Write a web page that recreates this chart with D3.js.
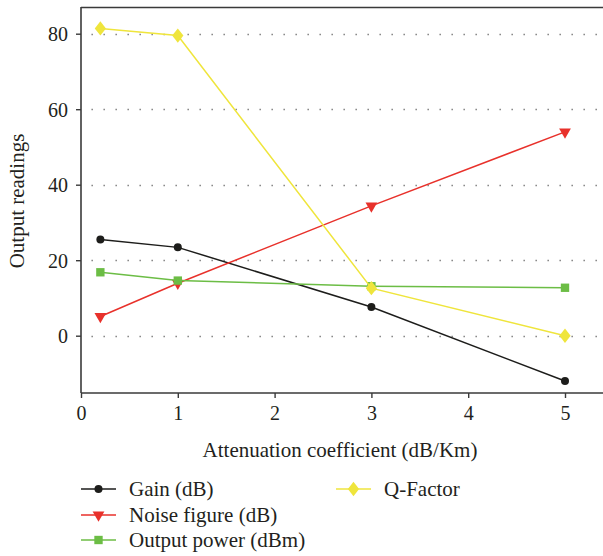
<!DOCTYPE html>
<html>
<head>
<meta charset="utf-8">
<script src="https://cdn.jsdelivr.net/npm/d3@7"></script>
<style>
  body { margin: 0; background: #fff; }
  svg { display: block; }
</style>
</head>
<body>
<svg id="chart" width="603" height="556"></svg>
<script>
const xValues = [0.2, 1, 3, 5];
const gain = [25.5, 23.4, 7.6, -12];
const noiseFigure = [5.1, 13.9, 34.4, 54];
const outputPower = [16.8, 14.6, 13.1, 12.7];
const qFactor = [81.4, 79.5, 12.6, 0];
const xTicks = [0, 1, 2, 3, 4, 5];
const yTicks = [0, 20, 40, 60, 80];
const seriesNames = ["Gain (dB)", "Noise figure (dB)", "Output power (dBm)", "Q-Factor"];
const seriesColors = ["#1d1d1b", "#e8312b", "#6cbd45", "#efe53c"];
const seriesMarkers = ["circle", "triangleDown", "square", "diamond"];
const seriesValues = [gain, noiseFigure, outputPower, qFactor];

const FONT = "'Liberation Serif', 'Times New Roman', serif";
const TXT = "#231f20";

const svg = d3.select("#chart");

const x = d3.scaleLinear().domain([0, 5]).range([81, 565]);
const y = d3.scaleLinear().domain([0, 80]).range([335.7, 33.7]);

// grid lines
svg.append("g").selectAll("line").data(yTicks).join("line")
  .attr("x1", 81).attr("x2", 603)
  .attr("y1", d => Math.round(y(d)) + 0.5).attr("y2", d => Math.round(y(d)) + 0.5)
  .attr("stroke", "#8a8a8a").attr("stroke-width", 1.6)
  .attr("stroke-dasharray", "1.6,10.4").attr("stroke-dashoffset", -10.4);

// frame top
svg.append("line").attr("x1", 81).attr("x2", 603).attr("y1", 7.5).attr("y2", 7.5)
  .attr("stroke", "#3a3a3a").attr("stroke-width", 1.6);

// axes
const yAxis = d3.axisLeft(y).tickValues(yTicks).tickSize(5).tickPadding(8);
const gy = svg.append("g").attr("transform", "translate(81,0)").call(yAxis);
gy.attr("font-family", FONT).attr("font-size", 20);
gy.select(".domain").remove();
gy.append("line").attr("x1", 0).attr("x2", 0).attr("y1", 7).attr("y2", 393)
  .attr("stroke", "#3a3a3a").attr("stroke-width", 1.6);
gy.selectAll(".tick line").attr("stroke", "#3a3a3a").attr("stroke-width", 1.4);
gy.selectAll(".tick text").style("font-size", "20px").attr("fill", TXT)
  .style("font-family", FONT).attr("dy", "0.35em");

const xAxis = d3.axisBottom(x).tickValues(xTicks).tickSize(5).tickPadding(8).tickFormat(d3.format("d"));
const gx = svg.append("g").attr("transform", "translate(0,393)").call(xAxis);
gx.attr("font-family", FONT).attr("font-size", 20);
gx.select(".domain").remove();
gx.append("line").attr("x1", 81).attr("x2", 603).attr("y1", 0).attr("y2", 0)
  .attr("stroke", "#3a3a3a").attr("stroke-width", 1.6);
gx.selectAll(".tick line").attr("stroke", "#3a3a3a").attr("stroke-width", 1.4);
gx.selectAll(".tick text").style("font-size", "20px").attr("fill", TXT)
  .style("font-family", FONT);

// axis titles
svg.append("text").attr("x", 340).attr("y", 457).attr("text-anchor", "middle")
  .style("font-family", FONT).style("font-size", "21px").attr("fill", TXT)
  .text("Attenuation coefficient (dB/Km)");
svg.append("text").attr("transform", "translate(24,201) rotate(-90)").attr("text-anchor", "middle")
  .style("font-family", FONT).style("font-size", "21px").attr("fill", TXT)
  .text("Output readings");

function drawMarker(g, type, cx, cy, color) {
  if (type === "circle") {
    g.append("circle").attr("cx", cx).attr("cy", cy).attr("r", 4).attr("fill", color);
  } else {
    const sym = { triangleDown: d3.symbolTriangle, square: d3.symbolSquare, diamond: d3.symbolDiamond }[type];
    const size = { triangleDown: 60, square: 70, diamond: 60 }[type];
    const rot = type === "triangleDown" ? 180 : 0;
    const sx = type === "diamond" ? 1.35 : 1;
    g.append("path").attr("d", d3.symbol().type(sym).size(size)())
      .attr("transform", `translate(${cx},${cy}) rotate(${rot}) scale(${sx},1)`)
      .attr("fill", color);
  }
}

const line = d3.line().x(d => x(d[0])).y(d => y(d[1]));
seriesValues.forEach((vals, i) => {
  const pts = xValues.map((xv, j) => [xv, vals[j]]);
  const g = svg.append("g");
  g.append("path").attr("d", line(pts)).attr("fill", "none")
    .attr("stroke", seriesColors[i]).attr("stroke-width", 1.5);
  pts.forEach(p => drawMarker(g, seriesMarkers[i], x(p[0]), y(p[1]), seriesColors[i]));
});

// legend
const legendPos = [[81, 489], [81, 515], [81, 540], [336, 489]];
seriesNames.forEach((name, i) => {
  const [lx, ly] = legendPos[i];
  const g = svg.append("g");
  g.append("line").attr("x1", lx).attr("x2", lx + 35).attr("y1", ly).attr("y2", ly)
    .attr("stroke", seriesColors[i]).attr("stroke-width", 1.5);
  drawMarker(g, seriesMarkers[i], lx + 17.5, ly, seriesColors[i]);
  g.append("text").attr("x", lx + 48).attr("y", ly).attr("dy", "0.33em")
    .style("font-family", FONT).style("font-size", "21px").attr("fill", TXT)
    .text(name);
});
</script>
</body>
</html>
